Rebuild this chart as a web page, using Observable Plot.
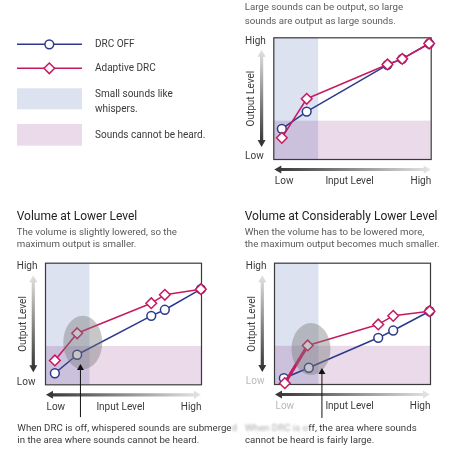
<!DOCTYPE html>
<html><head><meta charset="utf-8">
<script src="https://cdn.jsdelivr.net/npm/d3@7"></script>
<script src="https://cdn.jsdelivr.net/npm/@observablehq/plot@0.6"></script>
<style>
html,body{margin:0;padding:0;background:#fff;}
#root{position:relative;width:451px;height:449px;overflow:hidden;font-family:Roboto,sans-serif;color:#333;background:#fff;}
.abs{position:absolute;white-space:nowrap;}
.t{font-size:10px;line-height:12px;color:#3a3a3a;}
.sub{font-size:9.7px;color:#5a5a5a;}
.title{font-size:12px;line-height:14px;color:#222;}
.blur{color:#aaa;filter:blur(0.9px);}
svg{overflow:visible}
</style></head><body><div id="root"></div>
<script>
// ---- data ----
const levelLabels = ["Low", "High"];
const axisTitles = ["Input Level", "Output Level"];
const seriesNames = ["DRC OFF", "Adaptive DRC"];
const areaNames = ["Small sounds like\nwhispers.", "Sounds cannot be heard."];
const whisperInput = [0, 28.5];      // input-level range of small sounds
const inaudibleOutput = [0, 31.5];   // output-level range that cannot be heard

// Normal volume
const inputFull = [5.1, 20.9, 72.2, 81.6, 98.7];
const drcOffFull = [25.2, 39.4, 77.8, 82.7, 95.3];
const adaptiveFull = [17.8, 49.9, 78.1, 82.7, 95.3];
// Volume at lower level
const inputLower = [6.0, 20.3, 67.8, 76.5, 99.6];
const drcOffLower = [9.5, 24.7, 56.7, 61.7, 78.6];
const adaptiveLower = [20.0, 42.4, 67.1, 74.0, 78.6];
// Volume at considerably lower level
const inputMuch = [6.0, 22.0, 66.5, 76.1, 99.4];
const inputMuchAdaptive = [6.6, 21.3, 66.5, 76.1, 99.4];
const drcOffMuch = [5.2, 13.8, 38.5, 44.5, 60.4];
const adaptiveMuch = [1.1, 32.2, 49.5, 56.6, 60.4];

// highlight ellipse [cx, cy, rx, ry] and pointer [x, yFrom, yTo]
const highlightLower = [24.2, 34.4, 12.5, 22];
const highlightMuch = [23.7, 28.9, 12.5, 21.4];
const pointerLower = [22.4, -27, 15];
const pointerMuch = [30.4, -28, 11.5];

const BLUE = "#2b3a8c", PINK = "#c8195f";
const WHISPER = "#dde2f1", INAUDIBLE = "#eadaea";

const root = document.getElementById("root");

function axisArrows(id) {
  return (index, scales) => {
    const L = scales.x(0), R = scales.x(100), T = scales.y(100), B = scales.y(0);
    const g = d3.create("svg:g");
    const defs = g.append("defs");
    const ax = L - 11.7, y0 = T + 12.5, y1 = B - 12;
    const ay = B + 10.5, x0 = L + 1, x1 = R;
    const gy = defs.append("linearGradient").attr("id", id + "gy").attr("gradientUnits", "userSpaceOnUse")
      .attr("x1", 0).attr("y1", y0).attr("x2", 0).attr("y2", y1);
    gy.append("stop").attr("offset", 0).attr("stop-color", "#e2e2e2");
    gy.append("stop").attr("offset", 1).attr("stop-color", "#2e2e2e");
    const gx = defs.append("linearGradient").attr("id", id + "gx").attr("gradientUnits", "userSpaceOnUse")
      .attr("x1", x0).attr("y1", 0).attr("x2", x1).attr("y2", 0);
    gx.append("stop").attr("offset", 0).attr("stop-color", "#333");
    gx.append("stop").attr("offset", 1).attr("stop-color", "#e6e6e6");
    const h = 7, w = 4, s = 1.6;
    g.append("path").attr("fill", `url(#${id}gy)`).attr("d",
      `M${ax},${y0}L${ax + w},${y0 + h}L${ax + s},${y0 + h}L${ax + s},${y1 - h}L${ax + w},${y1 - h}L${ax},${y1}L${ax - w},${y1 - h}L${ax - s},${y1 - h}L${ax - s},${y0 + h}L${ax - w},${y0 + h}Z`);
    g.append("path").attr("fill", `url(#${id}gx)`).attr("d",
      `M${x0},${ay}L${x0 + h},${ay - w}L${x0 + h},${ay - s}L${x1 - h},${ay - s}L${x1 - h},${ay - w}L${x1},${ay}L${x1 - h},${ay + w}L${x1 - h},${ay + s}L${x0 + h},${ay + s}L${x0 + h},${ay + w}Z`);
    return g.node();
  };
}

function ellipseMark(e) {
  return (index, scales) => {
    const [cx, cy, rx, ry] = e;
    const g = d3.create("svg:g");
    g.append("ellipse")
      .attr("cx", scales.x(cx)).attr("cy", scales.y(cy))
      .attr("rx", scales.x(cx + rx) - scales.x(cx)).attr("ry", scales.y(cy) - scales.y(cy + ry))
      .attr("fill", "#7a7a7a").attr("fill-opacity", 0.42);
    return g.node();
  };
}

function label(text, frameAnchor, dx, dy, extra = {}) {
  return Plot.text([text], {text: d => d, frameAnchor, dx, dy, textAnchor: "middle", lineAnchor: "middle",
    fill: "#3a3a3a", fontSize: 10, ...extra});
}

function chart(cfg) {
  const off = cfg.input.map((x, i) => ({x, y: cfg.off[i]}));
  const ad = cfg.inputB.map((x, i) => ({x, y: cfg.adaptive[i]}));
  const lowExtra = cfg.blurLow ? {fill: "#b8b8b8"} : {};
  const marks = [
    Plot.rect([{x1: whisperInput[0], x2: whisperInput[1], y1: 0, y2: 100}], {x1: "x1", x2: "x2", y1: "y1", y2: "y2", fill: WHISPER, mixBlendMode: "multiply"}),
    Plot.rect([{x1: 0, x2: 100, y1: inaudibleOutput[0], y2: inaudibleOutput[1]}], {x1: "x1", x2: "x2", y1: "y1", y2: "y2", fill: INAUDIBLE, mixBlendMode: "multiply"}),
    Plot.frame({stroke: "#3a3a3a", strokeWidth: 1.2}),
    axisArrows(cfg.id),
    label(levelLabels[1], "top-left", -28.7, 3, {textAnchor: "start"}),
    label(levelLabels[0], "bottom-left", -28.7, -3.5, {textAnchor: "start", ...lowExtra}),
    label(axisTitles[1], "left", -23, 0, {rotate: -90}),
    label(levelLabels[0], "bottom-left", 1, 21.5, {textAnchor: "start", ...lowExtra}),
    label(axisTitles[0], "bottom", -3, 21.5),
    label(levelLabels[1], "bottom-right", 0, 21.5, {textAnchor: "end"}),
    Plot.line(off, {x: "x", y: "y", stroke: BLUE, strokeWidth: 1.5}),
    Plot.dot(off, {x: "x", y: "y", r: 4.4, fill: "white", stroke: BLUE, strokeWidth: 1.5}),
    Plot.line(ad, {x: "x", y: "y", stroke: PINK, strokeWidth: 1.5}),
  ];
  if (cfg.thick) marks.push(Plot.line(ad.slice(0, 2), {x: "x", y: "y", stroke: PINK, strokeWidth: 3.2, strokeDasharray: "2.5,1.2"}));
  marks.push(Plot.dot(ad, {x: "x", y: "y", symbol: "diamond2", r: 4.8, fill: "white", stroke: PINK, strokeWidth: 1.5}));
  if (cfg.highlight) marks.push(ellipseMark(cfg.highlight));
  if (cfg.pointer) {
    const p = [cfg.pointer];
    marks.push(Plot.ruleX(p, {x: d => d[0], y1: d => d[1], y2: d => d[2], stroke: "#111", strokeWidth: 1}));
    marks.push(Plot.dot(p, {x: d => d[0], y: d => d[2], symbol: "triangle", r: 2.6, fill: "#111", stroke: "none", dy: 1.5}));
  }
  const svg = Plot.plot({
    width: cfg.width, height: cfg.height,
    marginLeft: cfg.m[0], marginTop: cfg.m[1], marginRight: cfg.m[2], marginBottom: cfg.m[3],
    x: {domain: [0, 100], axis: null}, y: {domain: [0, 100], axis: null},
    style: {fontFamily: "Roboto, sans-serif", background: "transparent", overflow: "visible"},
    marks
  });
  svg.style.position = "absolute";
  svg.style.left = cfg.left + "px";
  svg.style.top = cfg.top + "px";
  root.appendChild(svg);
}

chart({id: "a", input: inputFull, inputB: inputFull, off: drcOffFull, adaptive: adaptiveFull,
  left: 230, top: 30, width: 221, height: 165, m: [43.3, 7.3, 20.3, 36]});
chart({id: "b", input: inputLower, inputB: inputLower, off: drcOffLower, adaptive: adaptiveLower,
  highlight: highlightLower, pointer: pointerLower,
  left: 0, top: 255, width: 225, height: 160, m: [45, 7.7, 24, 30.7]});
chart({id: "c", input: inputMuch, inputB: inputMuchAdaptive, off: drcOffMuch, adaptive: adaptiveMuch,
  highlight: highlightMuch, pointer: pointerMuch, blurLow: true, thick: true,
  left: 230, top: 255, width: 221, height: 160, m: [44, 7.7, 21, 31]});

// ---- legend ----
const lg = d3.select(root).append("svg").attr("class", "abs").style("left", "0px").style("top", "0px")
  .attr("width", 230).attr("height", 160);
lg.append("line").attr("x1", 17).attr("x2", 82).attr("y1", 44.3).attr("y2", 44.3).attr("stroke", BLUE).attr("stroke-width", 1.5);
lg.append("circle").attr("cx", 49.3).attr("cy", 44.3).attr("r", 4.4).attr("fill", "white").attr("stroke", BLUE).attr("stroke-width", 1.5);
lg.append("line").attr("x1", 17).attr("x2", 82).attr("y1", 68.3).attr("y2", 68.3).attr("stroke", PINK).attr("stroke-width", 1.5);
lg.append("path").attr("d", d3.symbol(d3.symbolDiamond2, Math.PI * 4.8 * 4.8)()).attr("transform", "translate(49.3,68.3)")
  .attr("fill", "white").attr("stroke", PINK).attr("stroke-width", 1.5);
lg.append("rect").attr("x", 17).attr("y", 88.3).attr("width", 65).attr("height", 21).attr("fill", WHISPER);
lg.append("rect").attr("x", 17).attr("y", 124).attr("width", 65).attr("height", 21.7).attr("fill", INAUDIBLE);

function div(html, cls, left, top, extra = "") {
  const d = document.createElement("div");
  d.className = "abs " + cls;
  d.style.cssText += `left:${left}px;top:${top}px;${extra}`;
  d.innerHTML = html;
  root.appendChild(d);
}
div(seriesNames[0], "t", 95, 38);
div(seriesNames[1], "t", 95, 62);
div(areaNames[0].replace("\n", "<br>"), "t", 95, 86, "line-height:15px;");
div(areaNames[1], "t", 95, 129);

div("Large sounds can be output, so large<br>sounds are output as large sounds.", "sub", 244.7, 0, "line-height:14px;");
div("Volume at Lower Level", "title", 16.7, 208.5);
div("The volume is slightly lowered, so the<br>maximum output is smaller.", "sub", 16.7, 226, "line-height:12px;");
div("Volume at Considerably Lower Level", "title", 244.7, 208.5);
div("When the volume has to be lowered more,<br>the maximum output becomes much smaller.", "sub", 244.7, 226, "line-height:12px;");
div("When DRC is off, whispered sounds are submerge<span class='blur'>d</span><br>in the area where sounds cannot be heard.", "sub", 17.3, 422, "line-height:12px;color:#3a3a3a;");
div("<span class='blur'>When DRC is o</span>ff, the area where sounds<br>cannot be heard is fairly large.", "sub", 245, 422, "line-height:12px;color:#3a3a3a;");
</script>
</body></html>
